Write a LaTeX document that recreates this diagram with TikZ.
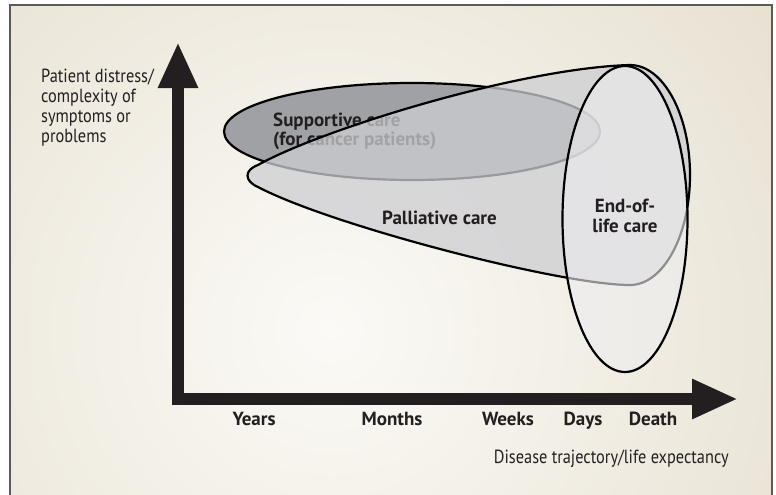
\documentclass[tikz,border=0pt]{standalone}
\usepackage{fontspec}
\setmainfont{PT Sans}[FakeStretch=0.86]
\newfontfamily\carefont{PT Sans}
\usetikzlibrary{arrows.meta}

\definecolor{inkblack}{HTML}{231F20}
\definecolor{paperlight}{HTML}{FBFAF6}
\definecolor{paperdark}{HTML}{E0D8C5}
\definecolor{framegray}{HTML}{5A5A5A}
\definecolor{supportgray}{HTML}{A0A1A5}
\definecolor{palliagray}{HTML}{CDCED2}
\definecolor{eolgray}{HTML}{EDEDEF}

\begin{document}
\begin{tikzpicture}[x=1pt,y=-1pt,
  axis/.style={line width=12pt,inkblack,line join=miter,
    {Triangle[length=46pt,width=37pt]}-{Triangle[length=46pt,width=37pt]}},
  carearea/.style={draw=black,line width=2.2pt},
  axistext/.style={font=\fontsize{19}{20}\selectfont,inner sep=0pt,text=inkblack,align=left},
  caretext/.style={axistext,font=\carefont\fontsize{19}{19}\selectfont\bfseries}]
\useasboundingbox (0,0) rectangle (776,495);

% paper and frame
\fill[white] (0,0) rectangle (776,495);
\begin{scope}
\clip (10,5) rectangle (772,500);
\shade[inner color=paperlight,outer color=paperdark] (330,330) circle (760);
\end{scope}
\draw[framegray,line width=1.2pt] (10,500) -- (10,5) -- (772,5) -- (772,500);

% supportive care, under the others
\filldraw[carearea,fill=supportgray] (412,131.5) ellipse [x radius=188,y radius=48.5];
\node[caretext,anchor=north west] (supportive) at (273,113) {Supportive care\\(for cancer patients)};

% palliative care cone
\filldraw[carearea,fill=palliagray,fill opacity=0.75]
  (630,65) arc[start angle=-90,end angle=90,x radius=60,y radius=110]
  .. controls (560,285) and (330,225) .. (258,187)
  .. controls (244,181) and (244,170) .. (258,165)
  .. controls (320,130) and (520,68) .. (630,65) -- cycle;
\node[caretext,anchor=base west] (palliative) at (382,224) {Palliative care};

% end of life
\filldraw[carearea,fill=eolgray,fill opacity=0.6] (625,219) ellipse [x radius=62.5,y radius=153];
\node[caretext,align=center,anchor=north,font=\carefont\fontsize{19}{20}\selectfont\bfseries] (endoflife) at (625,199) {End-of-\\life care};

% axes
\coordinate (origin) at (178,399);
\coordinate (ytip) at (178,42);
\coordinate (xtip) at (738,399);
\draw[axis] (ytip) -- (origin) -- (xtip);

\node[axistext,anchor=north west] (distress) at (41,69) {Patient distress/\\complexity of\\symptoms or\\problems};
\node[caretext,anchor=base] (years) at (254,425) {Years};
\node[caretext,anchor=base] (months) at (392,425) {Months};
\node[caretext,anchor=base] (weeks) at (508,425) {Weeks};
\node[caretext,anchor=base] (days) at (583,425) {Days};
\node[caretext,anchor=base] (death) at (653,425) {Death};
\node[axistext,anchor=base east] (trajectory) at (729,463) {Disease trajectory/life expectancy};
\end{tikzpicture}
\end{document}
